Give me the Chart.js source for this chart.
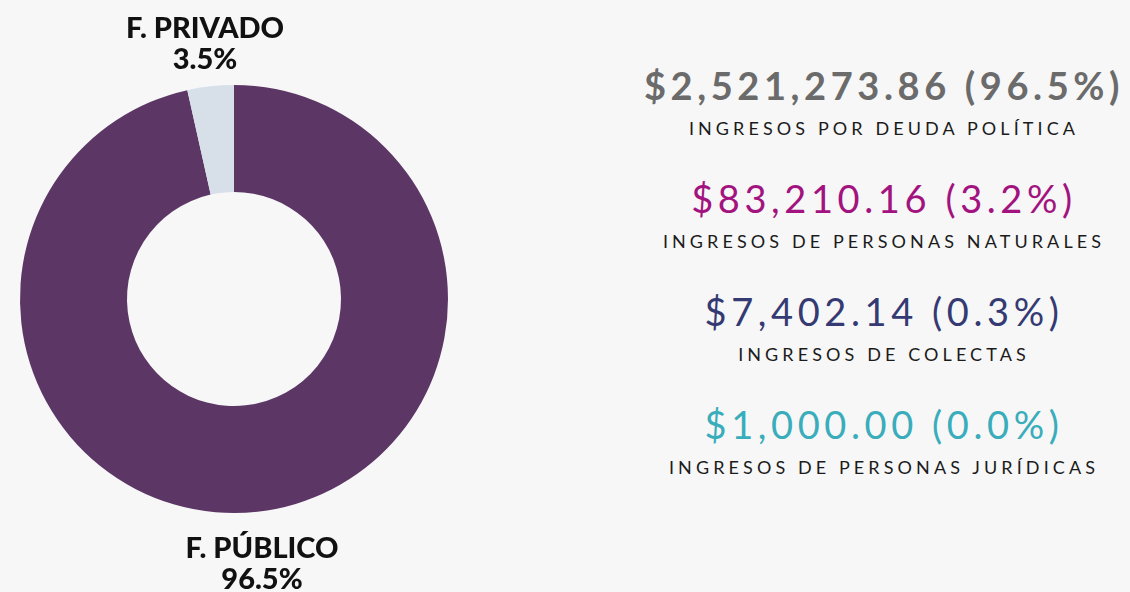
<!DOCTYPE html>
<html>
<head>
<meta charset="utf-8">
<script src="https://cdn.jsdelivr.net/npm/chart.js@4"></script>
<style>
  html, body { margin: 0; padding: 0; }
  body { width: 1130px; height: 592px; background: #f7f7f7; position: relative; overflow: hidden; font-family: Lato, "Open Sans", sans-serif; }
  #wrap { position: absolute; left: 0; top: 0; width: 470px; height: 592px; }
  #side { position: absolute; left: 634px; top: 0; width: 500px; text-align: center; }
  .row { position: absolute; left: 0; width: 100%; }
  .amt { font-size: 38px; letter-spacing: 4.6px; line-height: 40px; white-space: nowrap; }
  .lbl { font-size: 18px; letter-spacing: 4.1px; color: #1b1b1b; line-height: 22px; margin-top: 12px; white-space: nowrap; }
</style>
</head>
<body>
<div id="wrap"><canvas id="chart"></canvas></div>
<div id="side"></div>
<script>
// doughnut data (public vs private funding)
const fundLabels = ['F. PÚBLICO', 'F. PRIVADO'];
const fundPct = [96.5, 3.5];
const fundColors = ['#5c3766', '#d7dfe9'];

// income breakdown shown on the right
const incomeNames = ['INGRESOS POR DEUDA POLÍTICA', 'INGRESOS DE PERSONAS NATURALES', 'INGRESOS DE COLECTAS', 'INGRESOS DE PERSONAS JURÍDICAS'];
const incomeAmounts = [2521273.86, 83210.16, 7402.14, 1000.00];
const incomePct = [96.5, 3.2, 0.3, 0.0];
const incomeColors = ['#6b6b6b', '#a3137f', '#353a73', '#39adbb'];

// build the right side text
const side = document.getElementById('side');
incomeNames.forEach((name, i) => {
    const row = document.createElement('div');
    row.className = 'row';
    row.style.top = (65 + i * 113) + 'px';
    const amt = document.createElement('div');
    amt.className = 'amt';
    amt.style.color = incomeColors[i];
    if (i === 0) amt.style.fontWeight = '700';
    amt.textContent = '$' + incomeAmounts[i].toLocaleString('en-US', {minimumFractionDigits: 2, maximumFractionDigits: 2}) +
        ' (' + incomePct[i].toFixed(1) + '%)';
    const lbl = document.createElement('div');
    lbl.className = 'lbl';
    lbl.textContent = name;
    row.appendChild(amt);
    row.appendChild(lbl);
    side.appendChild(row);
});

// labels above / below the ring
const sliceLabels = {
    id: 'sliceLabels',
    afterDraw(chart) {
        const ctx = chart.ctx;
        const arc = chart.getDatasetMeta(0).data[0];
        const cx = arc.x, cy = arc.y, r = arc.outerRadius;
        ctx.save();
        ctx.fillStyle = '#111';
        ctx.font = '900 29px Lato, sans-serif';
        ctx.textAlign = 'center';
        ctx.textBaseline = 'alphabetic';
        // private slice sits at the top
        ctx.fillText(fundLabels[1], cx - 29, cy - r - 47);
        ctx.fillText(fundPct[1].toFixed(1) + '%', cx - 29, cy - r - 16);
        // public slice label under the ring
        ctx.fillText(fundLabels[0], cx + 28, cy + r + 45);
        ctx.fillText(fundPct[0].toFixed(1) + '%', cx + 28, cy + r + 76);
        ctx.restore();
    }
};

new Chart(document.getElementById('chart'), {
    type: 'doughnut',
    data: {
        labels: fundLabels,
        datasets: [{
            data: fundPct,
            backgroundColor: fundColors,
            borderWidth: 0
        }]
    },
    options: {
        responsive: true,
        maintainAspectRatio: false,
        animation: false,
        cutout: '50%',
        layout: { padding: { left: 20, right: 22, top: 85, bottom: 79 } },
        plugins: {
            legend: { display: false },
            tooltip: { enabled: false }
        }
    },
    plugins: [sliceLabels]
});
</script>
</body>
</html>
